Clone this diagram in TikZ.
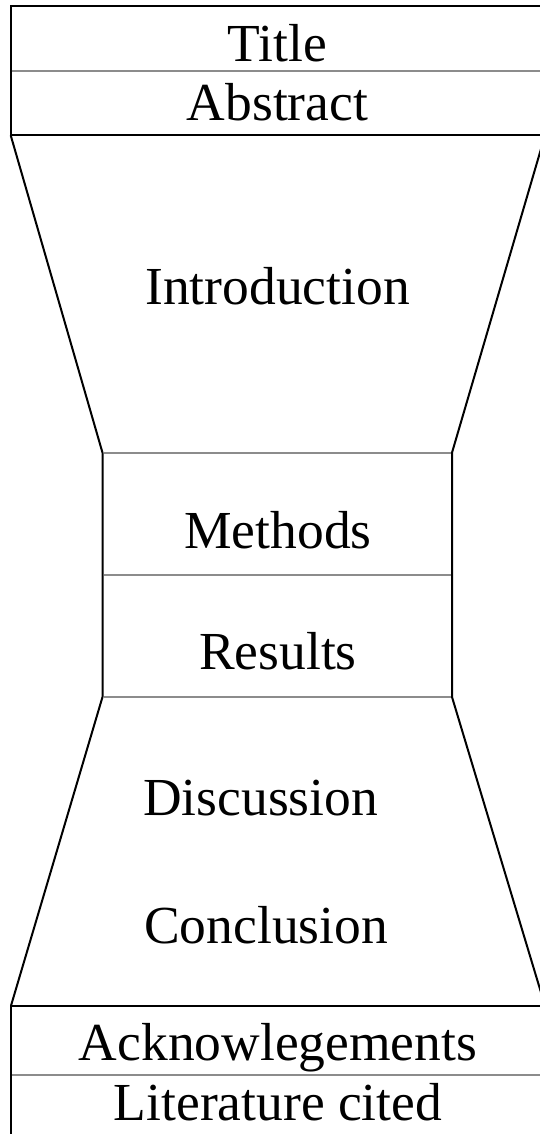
\documentclass[tikz,border=0pt]{standalone}
\usepackage{fontspec}
\setmainfont{Liberation Serif}
\begin{document}
\begin{tikzpicture}[x=1pt,y=-1pt,
  blk/.style={line width=2pt,black,line join=miter},
  gry/.style={line width=1.8pt,color={rgb,255:red,140;green,140;blue,140}},
  lbl/.style={inner sep=0pt,font=\fontsize{53.5}{60}\selectfont}]
\useasboundingbox (0,0) rectangle (539,1134);
% top box
\draw[blk] (546,5.7) -- (10.7,5.7) -- (10.7,135.3) -- (546,135.3);
\draw[gry] (11.7,71.3) -- (546,71.3);
% introduction funnel
\draw[blk] (10.7,135.3) -- (102.5,452.7) -- (102.5,697) -- (11,1005.7);
\draw[blk] (545,135.3) -- (452,452.7) -- (452,697) -- (545,1005.7);
% middle dividers
\draw[gry] (103.5,452.7) -- (451,452.7);
\draw[gry] (103.5,575) -- (451,575);
\draw[gry] (103.5,697) -- (451,697);
% bottom box
\draw[blk] (546,1005.7) -- (11,1005.7) -- (11,1150);
\draw[gry] (12,1075.3) -- (546,1075.3);
% labels
\node[lbl,anchor=base] (title) at (277.5,62) {Title};
\node[lbl,anchor=base] (abstract) at (277.5,121) {Abstract};
\node[lbl,anchor=base] (intro) at (277.5,304) {Introduction};
\node[lbl,anchor=base] (methods) at (278,548) {Methods};
\node[lbl,anchor=base] (results) at (278,669) {Results};
\node[lbl,anchor=base west] (discussion) at (143,815) {Discussion};
\node[lbl,anchor=base west] (conclusion) at (144,943) {Conclusion};
\node[lbl,anchor=base] (ack) at (278,1060) {Acknowlegements};
\node[lbl,anchor=base] (lit) at (278,1120) {Literature cited};
\end{tikzpicture}
\end{document}
